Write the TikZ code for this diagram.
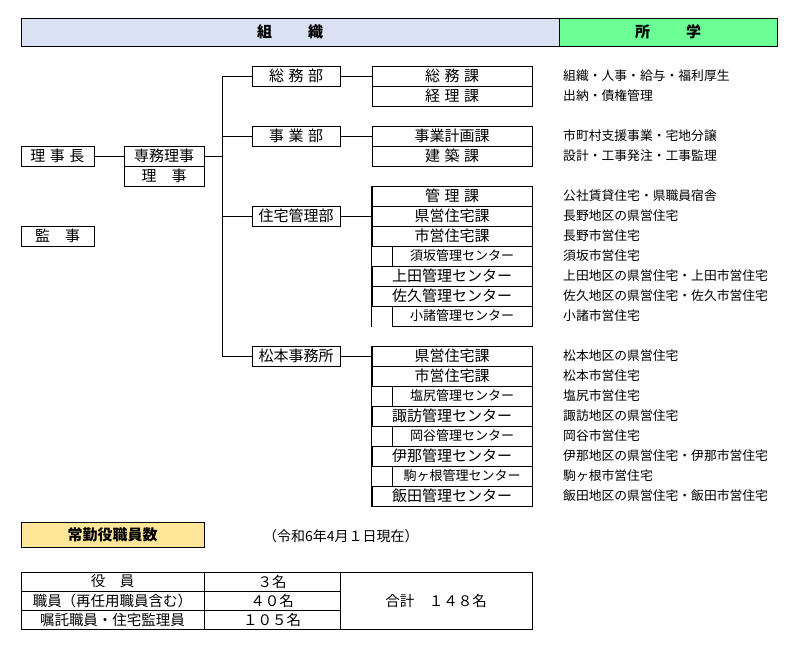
\documentclass[tikz,border=0pt]{standalone}
\usepackage{fontspec}
\setmainfont{Noto Sans CJK JP}
\definecolor{hblue}{HTML}{D9E1F2}
\definecolor{hgreen}{HTML}{6CFF96}
\definecolor{horange}{HTML}{FFE699}
\newcommand\fsz[1]{\fontsize{#1pt}{#1pt}\selectfont}
\newcommand\gs{\hspace{4.5pt}}
\tikzset{
  bx/.style={draw, line width=1pt, inner sep=0pt, minimum height=20pt, font=\fsz{15}},
  dept/.style={bx, minimum width=88pt},
  sec/.style={bx, minimum width=160pt},
  isec/.style={bx, minimum width=140pt, font=\fsz{13}},
  desc/.style={anchor=west, inner sep=0pt, font=\fsz{12.8}},
  ln/.style={line width=1pt},
  cell/.style={draw, line width=1pt, inner sep=0pt, font=\fsz{14.5}}
}
\begin{document}
\begin{tikzpicture}[x=1pt,y=-1pt]
\useasboundingbox (0,0) rectangle (796,648);
% header
\node[draw, line width=1pt, fill=hblue, minimum width=538pt, minimum height=28pt, inner sep=0pt, font=\fsz{15}\bfseries] (hsoshiki) at (290,32) {組\hspace{36pt}織};
\node[draw, line width=1pt, fill=hgreen, minimum width=218pt, minimum height=28pt, inner sep=0pt, font=\fsz{15}\bfseries] (hshogaku) at (668,32) {所\hspace{36pt}学};
% executives
\node[bx, minimum width=73pt] (richo) at (57.5,156) {理\gs 事\gs 長};
\node[bx, minimum width=80pt] (senmu) at (164,156) {専務理事};
\node[bx, minimum width=80pt] (riji) at (164,176) {理　事};
\node[bx, minimum width=73pt] (kanji) at (57.5,236) {監　事};
% departments
\node[dept] (soumubu) at (296,76) {総\gs 務\gs 部};
\node[dept] (jigyoubu) at (296,136) {事\gs 業\gs 部};
\node[dept] (juutaku) at (296,216) {住宅管理部};
\node[dept] (matsu) at (296,356) {松本事務所};
\coordinate (tk) at (222,0);
% sections
\node[sec] (s1) at (452,76) {総\gs 務\gs 課};
\node[sec] (s2) at (452,96) {経\gs 理\gs 課};
\node[sec] (s3) at (452,136) {事業計画課};
\node[sec] (s4) at (452,156) {建\gs 築\gs 課};
\node[sec] (s5) at (452,196) {管\gs 理\gs 課};
\node[sec] (s6) at (452,216) {県営住宅課};
\node[sec] (s7) at (452,236) {市営住宅課};
\node[isec] (s8) at (462,256) {須坂管理センター};
\node[sec] (s9) at (452,276) {上田管理センター};
\node[sec] (s10) at (452,296) {佐久管理センター};
\node[isec] (s11) at (462,316) {小諸管理センター};
\node[sec] (s12) at (452,356) {県営住宅課};
\node[sec] (s13) at (452,376) {市営住宅課};
\node[isec] (s14) at (462,396) {塩尻管理センター};
\node[sec] (s15) at (452,416) {諏訪管理センター};
\node[isec] (s16) at (462,436) {岡谷管理センター};
\node[sec] (s17) at (452,456) {伊那管理センター};
\node[isec] (s18) at (462,476) {駒ヶ根管理センター};
\node[sec] (s19) at (452,496) {飯田管理センター};
\draw[ln] (s5.north west) -- (s11.south west -| s5.west);
\draw[ln] (s12.north west) -- (s19.south west);
% descriptions
\node[desc] (d1) at (563,76) {組織・人事・給与・福利厚生};
\node[desc] (d2) at (563,96) {出納・債権管理};
\node[desc] (d3) at (563,136) {市町村支援事業・宅地分譲};
\node[desc] (d4) at (563,156) {設計・工事発注・工事監理};
\node[desc] (d5) at (563,196) {公社賃貸住宅・県職員宿舎};
\node[desc] (d6) at (563,216) {長野地区の県営住宅};
\node[desc] (d7) at (563,236) {長野市営住宅};
\node[desc] (d8) at (563,256) {須坂市営住宅};
\node[desc] (d9) at (563,276) {上田地区の県営住宅・上田市営住宅};
\node[desc] (d10) at (563,296) {佐久地区の県営住宅・佐久市営住宅};
\node[desc] (d11) at (563,316) {小諸市営住宅};
\node[desc] (d12) at (563,356) {松本地区の県営住宅};
\node[desc] (d13) at (563,376) {松本市営住宅};
\node[desc] (d14) at (563,396) {塩尻市営住宅};
\node[desc] (d15) at (563,416) {諏訪地区の県営住宅};
\node[desc] (d16) at (563,436) {岡谷市営住宅};
\node[desc] (d17) at (563,456) {伊那地区の県営住宅・伊那市営住宅};
\node[desc] (d18) at (563,476) {駒ヶ根市営住宅};
\node[desc] (d19) at (563,496) {飯田地区の県営住宅・飯田市営住宅};
% connectors
\draw[ln] (richo.east) -- (senmu.west);
\draw[ln] (senmu.east) -- (senmu.east -| tk);
\draw[ln] (soumubu.west) -- (soumubu.west -| tk) -- (matsu.west -| tk) -- (matsu.west);
\draw[ln] (jigyoubu.west) -- (jigyoubu.west -| tk);
\draw[ln] (juutaku.west) -- (juutaku.west -| tk);
\draw[ln] (soumubu.east) -- (s1.west);
\draw[ln] (jigyoubu.east) -- (s3.west);
\draw[ln] (juutaku.east) -- (s6.west);
\draw[ln] (matsu.east) -- (s12.west);
% staff
\node[draw, line width=1pt, fill=horange, minimum width=183pt, minimum height=25pt, inner sep=0pt, font=\fsz{15}\bfseries] (jokin) at (112.5,534.5) {常勤役職員数};
\node[anchor=west, inner sep=0pt, font=\fsz{14}] (date) at (263,536) {（令和6年4月１日現在）};
\node[cell, minimum width=183pt, minimum height=19pt] (t11) at (112.5,581.5) {役　員};
\node[cell, minimum width=183pt, minimum height=19pt] (t21) at (112.5,600.5) {職員（再任用職員含む）};
\node[cell, minimum width=183pt, minimum height=19pt] (t31) at (112.5,619.5) {嘱託職員・住宅監理員};
\node[cell, minimum width=136pt, minimum height=19pt] (t12) at (272,581.5) {３名};
\node[cell, minimum width=136pt, minimum height=19pt] (t22) at (272,600.5) {４０名};
\node[cell, minimum width=136pt, minimum height=19pt] (t32) at (272,619.5) {１０５名};
\node[cell, minimum width=192pt, minimum height=57pt] (total) at (436,600.5) {合計　１４８名};
\end{tikzpicture}
\end{document}
